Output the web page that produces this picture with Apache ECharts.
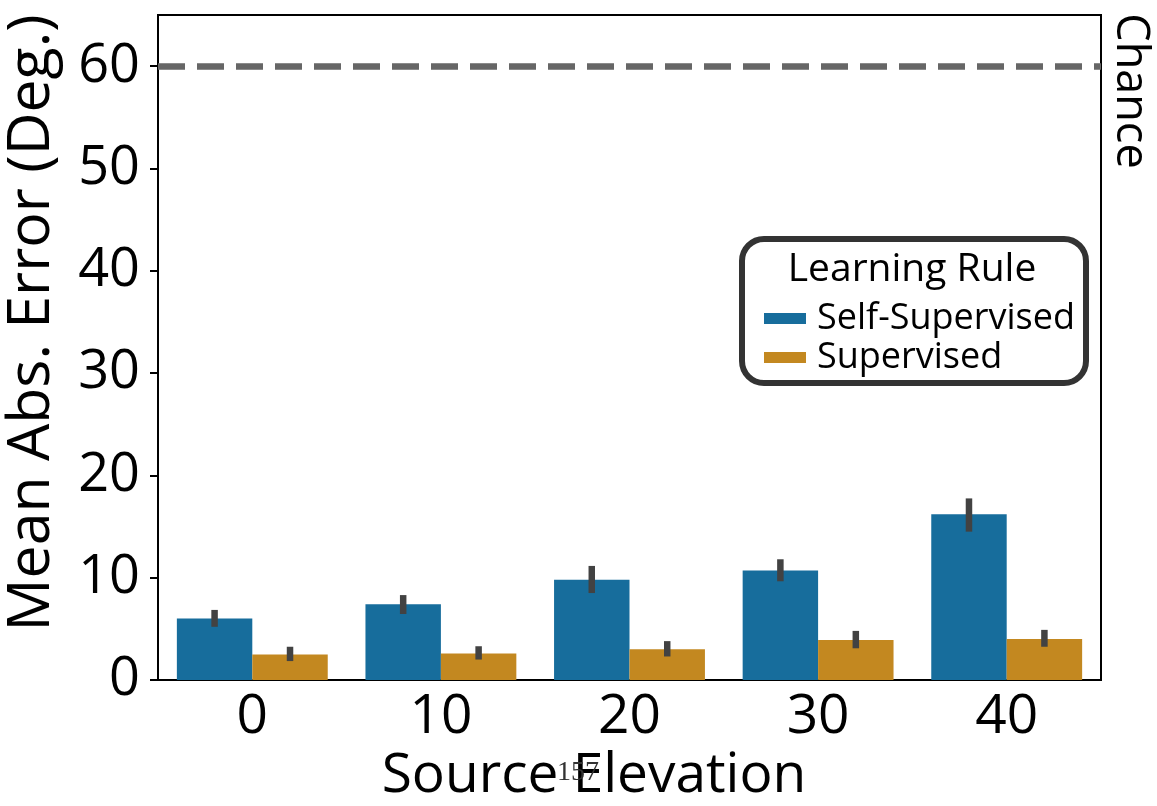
<!DOCTYPE html>
<html>
<head>
<meta charset="utf-8">
<script src="https://cdn.jsdelivr.net/npm/echarts@6/dist/echarts.min.js"></script>
<style>
  html, body { margin: 0; padding: 0; background: #fff; }
  #chart { width: 1157px; height: 806px; }
</style>
</head>
<body>
<div id="chart"></div>
<script>
// Source elevation categories (degrees)
const categories = ['0', '10', '20', '30', '40'];

// Mean absolute error per learning rule
const selfSupervised = [6.0, 7.4, 9.8, 10.7, 16.2];
const supervised = [2.5, 2.6, 3.0, 3.9, 4.0];

// Confidence interval bounds
const selfSupervisedLow = [5.2, 6.45, 8.5, 9.65, 14.5];
const selfSupervisedHigh = [6.85, 8.3, 11.15, 11.8, 17.75];
const supervisedLow = [1.85, 2.0, 2.3, 3.1, 3.25];
const supervisedHigh = [3.25, 3.3, 3.8, 4.8, 4.9];

// Chance level and y tick labels
const chanceLevel = 60;
const yTicks = [0, 10, 20, 30, 40, 50, 60];

const FONT = 'Open Sans';
const BLUE = '#176D9C';
const ORANGE = '#C38820';
const ERR = '#424242';

function errorData(low, high) {
  return categories.map((c, i) => [i, low[i], high[i]]);
}

function errorRenderer(offset) {
  return function (params, api) {
    const i = api.value(0);
    const lo = api.coord([i, api.value(1)]);
    const hi = api.coord([i, api.value(2)]);
    const bw = api.size([1, 0])[0];
    const x = lo[0] + offset * bw;
    return {
      type: 'line',
      shape: { x1: x, y1: lo[1], x2: x, y2: hi[1] },
      style: { stroke: ERR, lineWidth: 6.5 }
    };
  };
}

const chart = echarts.init(document.getElementById('chart'), null, { renderer: 'canvas' });

chart.setOption({
  animation: false,
  backgroundColor: '#fff',
  textStyle: { fontFamily: FONT },
  grid: {
    left: 158, right: 56, top: 15, bottom: 126,
    containLabel: false,
    outerBoundsMode: 'none',
    show: true, borderColor: '#000', borderWidth: 2
  },
  xAxis: {
    type: 'category',
    data: categories,
    axisLine: { lineStyle: { color: '#000', width: 2 } },
    axisTick: { alignWithLabel: true, length: 8, lineStyle: { color: '#000', width: 2 } },
    axisLabel: { fontFamily: FONT, fontSize: 55, color: '#000', margin: 10 }
  },
  yAxis: {
    type: 'value',
    min: 0, max: 65, interval: 10,
    splitLine: { show: false },
    axisLine: { show: true, lineStyle: { color: '#000', width: 2 } },
    axisTick: { show: true, length: 8, customValues: yTicks, lineStyle: { color: '#000', width: 2 } },
    axisLabel: { fontFamily: FONT, fontSize: 54, color: '#000', margin: 18, customValues: yTicks }
  },
  legend: {
    data: ['Self-Supervised', 'Supervised'],
    orient: 'vertical',
    left: 764, top: 299,
    z: 100,
    icon: 'rect',
    itemWidth: 42, itemHeight: 11,
    itemGap: 0,
    padding: 0,
    textStyle: { fontFamily: FONT, fontSize: 36, color: '#000', lineHeight: 39, padding: [0, 0, 0, 6] }
  },
  graphic: [
    {
      // y axis title
      type: 'text',
      x: 62, y: 323,
      rotation: Math.PI / 2,
      style: { text: 'Mean Abs. Error (Deg.)', fontFamily: FONT, fontSize: 59, fill: '#000', align: 'center', verticalAlign: 'bottom' },
      z: 60
    },
    {
      // x axis title
      type: 'text',
      x: 594, y: 776,
      style: { text: 'Source Elevation', fontFamily: FONT, fontSize: 55, fill: '#000', align: 'center', verticalAlign: 'middle' },
      z: 60
    },
    {
      type: 'rect',
      left: 739, top: 236,
      shape: { width: 344, height: 144, r: 22 },
      style: { fill: 'rgba(255,255,255,0.9)', stroke: '#333', lineWidth: 6 },
      z: 50
    },
    {
      type: 'text',
      x: 912, y: 270,
      style: { text: 'Learning Rule', fontFamily: FONT, fontSize: 39, fill: '#000', align: 'center', verticalAlign: 'middle' },
      z: 60
    },
    {
      type: 'text',
      x: 1130, y: 91,
      rotation: -Math.PI / 2,
      style: { text: 'Chance', fontFamily: FONT, fontSize: 45, fill: '#000', align: 'center', verticalAlign: 'middle' },
      z: 60
    },
    {
      type: 'text',
      x: 578, y: 773,
      style: { text: '157', fontFamily: 'Liberation Serif', fontSize: 28, fill: '#333', align: 'center', verticalAlign: 'middle' },
      z: 70
    }
  ],
  series: [
    {
      name: 'Self-Supervised',
      type: 'bar',
      data: selfSupervised,
      barGap: '0%',
      barCategoryGap: '20%',
      itemStyle: { color: BLUE },
      markLine: {
        silent: true,
        symbol: ['none', 'none'],
        label: { show: false },
        lineStyle: { color: '#666', width: 6.5, type: [27, 12] },
        data: [{ yAxis: chanceLevel }]
      }
    },
    {
      name: 'Supervised',
      type: 'bar',
      data: supervised,
      barGap: '0%',
      barCategoryGap: '20%',
      itemStyle: { color: ORANGE }
    },
    {
      name: 'Self-Supervised CI',
      type: 'custom',
      z: 5,
      data: errorData(selfSupervisedLow, selfSupervisedHigh),
      encode: { x: 0, y: [1, 2] },
      renderItem: errorRenderer(-0.2)
    },
    {
      name: 'Supervised CI',
      type: 'custom',
      z: 5,
      data: errorData(supervisedLow, supervisedHigh),
      encode: { x: 0, y: [1, 2] },
      renderItem: errorRenderer(0.2)
    }
  ]
});
</script>
</body>
</html>
